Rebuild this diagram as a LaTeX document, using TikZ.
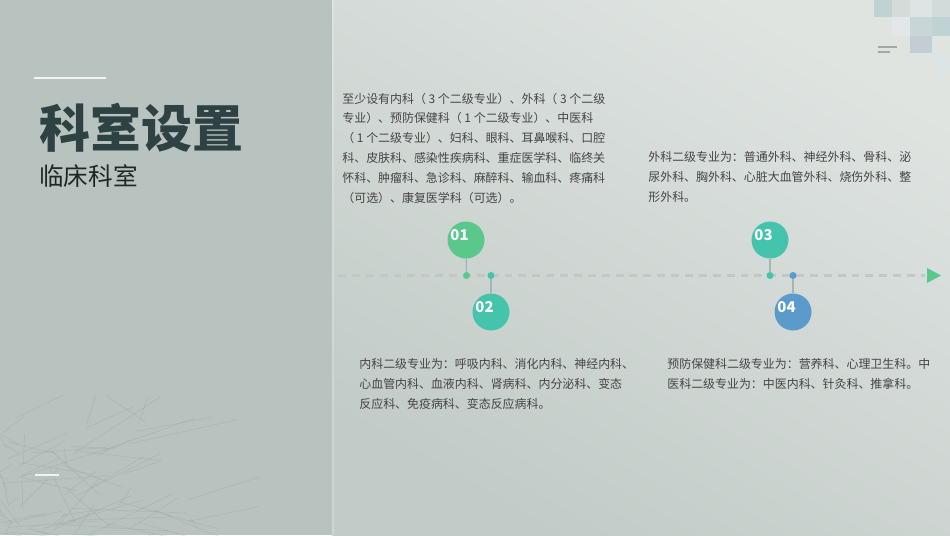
\documentclass[tikz,border=0pt]{standalone}
\usepackage{fontspec}
\setmainfont{Noto Sans CJK SC}
\usetikzlibrary{positioning}
\definecolor{leftbg}{HTML}{B8C2BE}
\definecolor{rightlt}{HTML}{DFE4E1}
\definecolor{rightdk}{HTML}{C2CBC7}
\definecolor{titlec}{HTML}{2E4143}
\definecolor{subc}{HTML}{1E2828}
\definecolor{bodyc}{HTML}{454545}
\definecolor{dashc}{HTML}{C3C7C5}
\definecolor{greenc}{HTML}{5BC88B}
\definecolor{tealc}{HTML}{45C4AD}
\definecolor{bluec}{HTML}{5B9BCB}
\definecolor{stemc}{HTML}{9DB9B6}
\definecolor{netc}{HTML}{8C9793}
\definecolor{sqa}{HTML}{C0D3D3}
\definecolor{sqb}{HTML}{D4DBD9}
\definecolor{sqc}{HTML}{DEE4E3}
\definecolor{sqd}{HTML}{D2DBD9}
\definecolor{sqe}{HTML}{E2E8E7}
\definecolor{sqf}{HTML}{C8D6D7}
\definecolor{sqg}{HTML}{BFD2D4}
\definecolor{sqh}{HTML}{C4CDD4}
\definecolor{sqi}{HTML}{DDE5E4}

\begin{document}
\begin{tikzpicture}[x=0.02cm, y=-0.02cm,
		txt/.style={anchor=north west, inner sep=0pt, align=left, text=bodyc,
				font=\fontsize{6.8}{11.3}\selectfont},
		ball/.style={circle, fill=#1, minimum size=0.74cm, inner sep=0pt},
		tdot/.style={circle, fill=#1, minimum size=0.14cm, inner sep=0pt},
		num/.style={text=white, inner sep=0pt, font=\bfseries\fontsize{8.5}{9}\selectfont},
		stem/.style={draw=stemc, line width=0.7pt},
		sq/.style={fill=#1, draw=none}]
	\useasboundingbox (0,0) rectangle (950,535);
	\fill[leftbg] (0,0) rectangle (332,535);
	\shade[left color=rightlt, right color=rightdk, shading angle=-30] (332,0) rectangle (950,535);
	\draw[white, opacity=0.2, line width=0.6pt] (333,0) -- (333,535);

	\begin{scope}
		\clip (0,395) rectangle (331,535);
		\pgfmathsetseed{11}
		\foreach \k in {1,...,80}{
			\pgfmathsetmacro{\xa}{200*rnd^2}
			\pgfmathsetmacro{\ya}{535-120*rnd^1.5}
			\pgfmathsetmacro{\xb}{\xa+170*rnd-50}
			\pgfmathsetmacro{\yb}{\ya-90*rnd+30}
			\draw[netc, opacity=0.3, line width=0.3pt] (\xa,\ya) -- (\xb,\yb);
		}
	\end{scope}

	\fill[sq=sqa] (874,0) rectangle (892,17); \fill[sq=sqb] (892,0) rectangle (910,17);
	\fill[sq=sqc] (910,0) rectangle (932,17); \fill[sq=sqd] (932,0) rectangle (950,17);
	\fill[sq=sqe] (892,17) rectangle (910,36); \fill[sq=sqf] (910,17) rectangle (932,36);
	\fill[sq=sqg] (932,17) rectangle (950,36); \fill[sq=sqh] (910,36) rectangle (932,53);
	\fill[sq=sqi] (932,53) rectangle (950,71);
	\draw[gray!70, line width=0.7pt] (878,47) -- (897,47); \draw[gray!70, line width=0.7pt] (878,52) -- (890,52);

	\draw[white!80!leftbg, line width=1.2pt] (34,78) -- (106,78);
	\draw[white!80!leftbg, line width=1.2pt] (35,475) -- (59,475);
	\node[anchor=west, inner sep=0pt, text=titlec, font=\bfseries\fontsize{29}{31}\selectfont]
		(title) at (39,128) {科室设置};
	\node[anchor=west, inner sep=0pt, text=subc, font=\fontsize{14}{16}\selectfont]
		(subtitle) at (39,176) {临床科室};

	\coordinate (ls) at (338,275.5); \coordinate (le) at (925,275.5);
	\draw[dashc, line width=1.2pt, dash pattern=on 4.5pt off 3.4pt] (ls) -- (le);
	\fill[greenc] (927,268) -- (941,275.5) -- (927,283) -- cycle;

	\node[tdot=greenc] (d1) at (466.5,275.5) {}; \node[ball=greenc] (c1) at (466,240) {};
	\node[tdot=tealc] (d2) at (491,275.5) {}; \node[ball=tealc] (c2) at (491,312) {};
	\node[tdot=tealc] (d3) at (770,275.5) {}; \node[ball=tealc] (c3) at (770,240) {};
	\node[tdot=bluec] (d4) at (793,275.5) {}; \node[ball=bluec] (c4) at (793,312) {};
	\draw[stem] (c1) -- (d1); \draw[stem] (d2) -- (c2);
	\draw[stem] (c3) -- (d3); \draw[stem] (d4) -- (c4);
	\node[num] (n1) at ([shift={(-6.5,-5)}]c1.center) {01};
	\node[num] (n2) at ([shift={(-6.5,-4.5)}]c2.center) {02};
	\node[num] (n3) at ([shift={(-6.5,-5)}]c3.center) {03};
	\node[num] (n4) at ([shift={(-6.5,-4.5)}]c4.center) {04};

	\node[txt] (t1) at (342,92.5) {至少设有内科（ 3 个二级专业）、外科（ 3 个二级\\专业）、预防保健科（ 1 个二级专业）、中医科\\（ 1 个二级专业）、妇科、眼科、耳鼻喉科、口腔\\科、皮肤科、感染性疾病科、重症医学科、临终关\\怀科、肿瘤科、急诊科、麻醉科、输血科、疼痛科\\（可选）、康复医学科（可选）。};
	\node[txt] (t3) at (648,151.5) {外科二级专业为：普通外科、神经外科、骨科、泌\\尿外科、胸外科、心脏大血管外科、烧伤外科、整\\形外科。};
	\node[txt] (t2) at (359,358.5) {内科二级专业为：呼吸内科、消化内科、神经内科、\\心血管内科、血液内科、肾病科、内分泌科、变态\\反应科、免疫病科、变态反应病科。};
	\node[txt] (t4) at (667,358.5) {预防保健科二级专业为：营养科、心理卫生科。中\\医科二级专业为：中医内科、针灸科、推拿科。};
\end{tikzpicture}
\end{document}
